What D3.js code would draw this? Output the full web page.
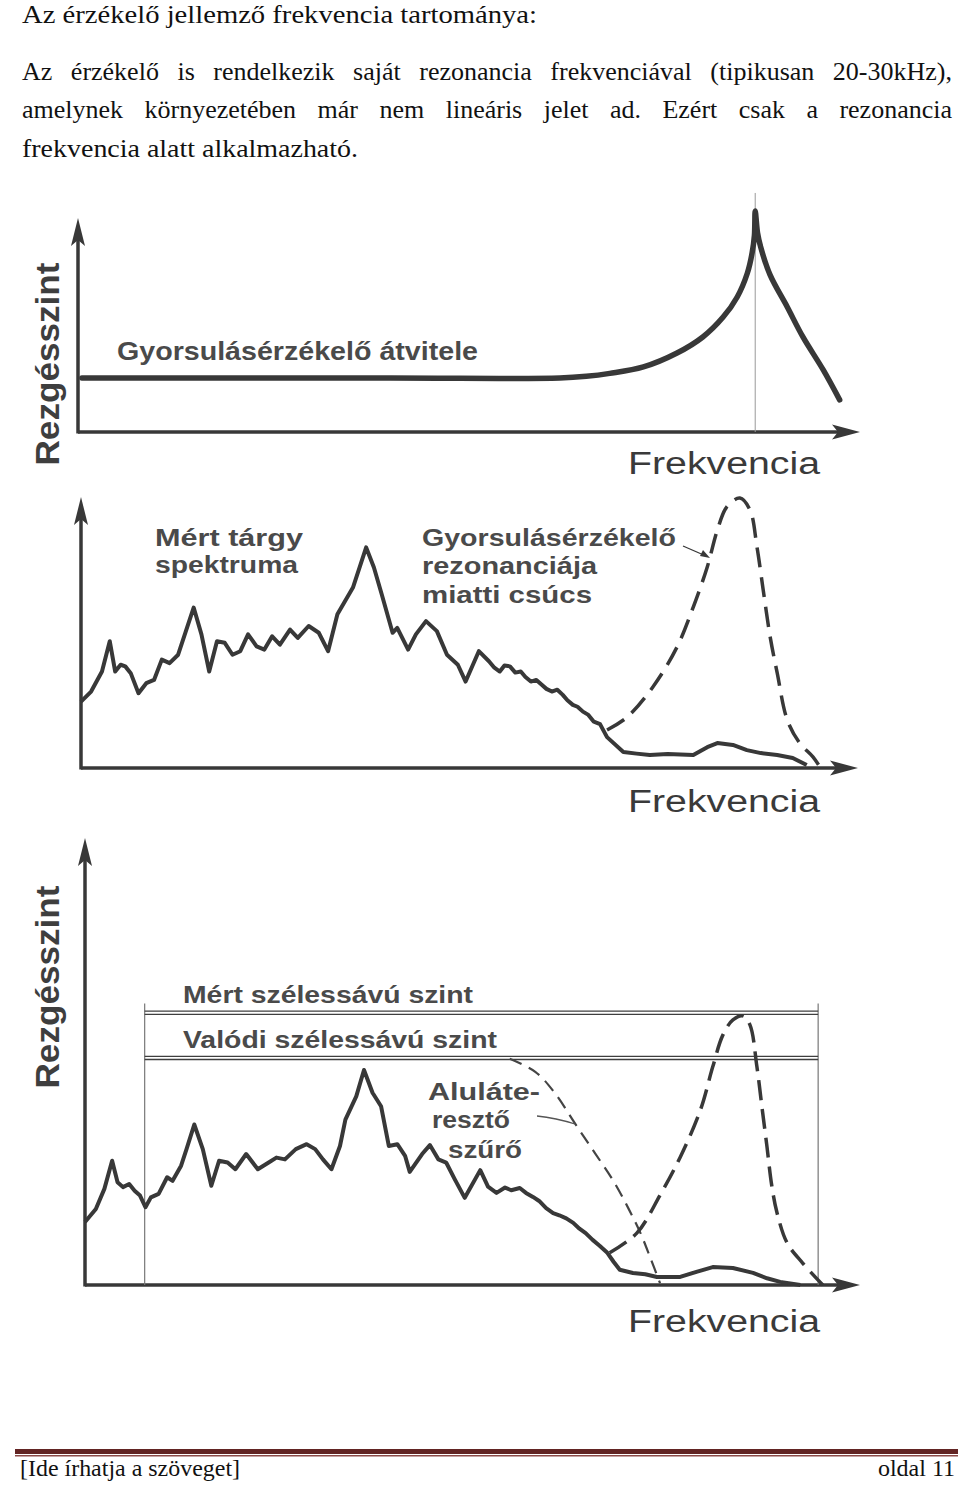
<!DOCTYPE html>
<html><head><meta charset="utf-8">
<script src="https://cdn.jsdelivr.net/npm/d3@7"></script>
<style>body{margin:0;background:#fff} svg{display:block}</style>
</head><body>
<svg id="c" width="960" height="1487"></svg>
<script>
// ---------- DATA (frequency 0..100 along the axis, level 0..100 up the axis) ----------
const headerLines = [
  "Az érzékelő jellemző frekvencia tartománya:",
  "Az érzékelő is rendelkezik saját rezonancia frekvenciával (tipikusan 20-30kHz),",
  "amelynek környezetében már nem lineáris jelet ad. Ezért csak a rezonancia",
  "frekvencia alatt alkalmazható."
];
const axisYLabel = "Rezgésszint";
const axisXLabel = "Frekvencia";

// Chart 1: accelerometer transfer function
const transferCurve = [[0.5,25.2],[40,25.2],[61.6,25.2],[65.0,26.0],[68.0,27.4],[72.3,30.4],[76.6,36.9],[79.9,44.4],[82.5,53.7],[84.3,63.1],[85.6,74.3],[86.2,83.6],[86.5,92],[86.6,103.3],[86.9,93],[87.3,86.4],[88.5,73.4],[90.7,58.4],[92.7,44.4],[95.3,29.0],[97.4,15.0]];
const resonanceMarker = [86.6, 111.7];
const transferLabel = "Gyorsulásérzékelő átvitele";

// Chart 2: measured spectrum + resonance peak
const spectrum2 = [[0,24.5],[1.3,28.2],[2.7,35.6],[3.7,46.8],[4.4,35.6],[5.1,38.1],[5.7,37.5],[6.4,35.0],[7.4,27.6],[8.4,31.3],[9.4,32.5],[10.4,40.0],[11.4,38.7],[12.5,41.8],[13.5,50.5],[14.5,59.2],[15.5,49.3],[16.5,35.6],[17.5,46.8],[18.5,46.2],[19.5,41.8],[20.5,43.1],[21.5,49.3],[22.6,44.9],[23.6,43.7],[24.6,48.6],[25.6,45.5],[26.9,51.1],[27.9,48.0],[29.3,52.4],[30.6,49.9],[31.8,43.1],[33.0,56.7],[35.0,66.6],[36.7,81.4],[37.7,74.0],[38.7,64.1],[40.1,49.9],[40.7,51.7],[42.1,43.7],[43.1,49.3],[44.4,54.2],[45.8,50.5],[47.1,41.8],[48.5,38.1],[49.5,31.9],[51.2,43.1],[52.5,39.4],[53.2,37.0],[53.9,35.6],[54.5,37.8],[55.2,37.5],[55.9,35.2],[56.6,35.6],[57.2,33.6],[57.9,31.9],[58.6,32.5],[59.3,30.7],[59.9,29.2],[60.6,28.2],[61.3,28.9],[62.0,27.0],[62.6,25.0],[63.3,23.3],[63.9,22.6],[64.6,20.8],[65.3,19.6],[66.0,17.1],[66.8,16.2],[67.7,11.4],[69.8,5.9],[71.5,5.3],[73.2,4.8],[75.5,5.2],[78.8,4.8],[80.6,7.7],[81.9,9.2],[83.9,8.5],[85.7,6.6],[87.5,5.5],[89.6,4.8],[91.6,3.7],[93.4,1.1]];
const resonance2 = [[67.7,14.0],[70.3,18.8],[73.6,29.9],[76.7,44.6],[78.8,59.4],[80.6,74.2],[81.9,87.8],[83.1,96.3],[84.8,99.6],[86.1,95.2],[87.0,81.5],[87.8,65.7],[88.7,48.3],[89.6,35.1],[90.9,17.7],[92.5,9.2],[94.2,4.1],[95.1,0.4]];
const chart2LabelLeft = ["Mért tárgy", "spektruma"];
const chart2LabelRight = ["Gyorsulásérzékelő", "rezonanciája", "miatti csúcs"];

// Chart 3: spectrum, low-pass filter, resonance, broadband levels
const spectrum3 = [[0,14.1],[1.4,17.0],[2.5,21.5],[3.5,27.8],[4.2,23.0],[4.9,21.9],[5.7,22.6],[6.4,21.1],[7.1,20.0],[7.8,17.4],[8.5,19.6],[9.5,20.4],[10.6,24.1],[11.3,23.3],[12.4,26.7],[13.1,30.4],[14.1,35.9],[15.2,30.4],[16.3,22.2],[17.3,27.8],[18.4,27.4],[19.4,25.9],[20.8,29.3],[22.3,25.9],[23.7,27.4],[24.7,28.5],[25.8,28.1],[27.2,30.4],[28.6,31.5],[29.7,30.4],[30.7,28.1],[31.8,25.9],[32.9,31.1],[33.6,37.0],[35.0,42.2],[36.0,48.1],[37.1,43.0],[38.2,40.0],[39.2,31.1],[40.3,31.5],[41.3,28.9],[41.9,25.3],[43.5,29.3],[44.5,31.3],[45.6,28.1],[46.6,27.4],[47.7,23.7],[49.0,19.5],[51.0,25.7],[52.0,22.0],[53.1,20.6],[54.2,21.8],[55.0,21.2],[56.1,21.7],[56.9,20.6],[57.8,19.7],[58.6,18.8],[59.5,17.2],[60.4,16.1],[61.2,15.6],[62.1,14.9],[63.0,13.9],[63.8,12.6],[64.6,11.6],[65.5,10.1],[66.4,8.8],[67.4,7.2],[68.2,5.2],[69.0,3.4],[70.7,2.7],[72.3,2.4],[73.8,1.8],[76.8,1.8],[79.0,3.0],[81.0,4.0],[83.6,3.8],[86.2,2.7],[88.0,1.5],[89.7,0.7],[92.3,0]];
const lowPass3 = [[54.8,50.6],[58.1,47.7],[60.6,43.0],[63.2,36.2],[65.8,29.5],[68.1,23.5],[70.1,17.2],[71.6,11.9],[72.9,6.3],[74.2,0.4]];
const resonance3 = [[67.7,7.2],[71.2,11.6],[74.2,20.1],[76.8,28.6],[79.4,39.1],[81.0,48.8],[82.3,55.9],[83.6,59.3],[84.9,60.2],[85.8,58.2],[86.7,48.8],[87.4,39.1],[88.0,30.9],[88.6,22.4],[89.3,16.1],[90.6,9.4],[92.6,4.9],[95.2,0]];
const bandLevels = [60.9, 50.8];          // measured, true broadband level
const bandRange = [7.7, 94.6];            // frequency band of the broadband measurement
const bandTop = 63;
const bandLabels = ["Mért szélessávú szint", "Valódi szélessávú szint"];
const filterLabel = ["Aluláte-", "resztő", "szűrő"];

const footerLeft = "[Ide írhatja a szöveget]";
const footerRight = "oldal 11";

// ---------- DRAWING ----------
const svg = d3.select("#c");
const INK = "#383838", TXT = "#4a4a4a";

function plainLine(txt, x, y, w) {
  const t = svg.append("text").attr("x", x).attr("y", y)
    .attr("font-family", "Liberation Serif").attr("font-size", 26).attr("fill", "#111").text(txt);
  if (w) t.attr("textLength", w).attr("lengthAdjust", "spacingAndGlyphs");
  return t;
}
function justifyLine(txt, x0, x1, y) {
  const words = txt.split(" ");
  const g = svg.append("g");
  const nodes = words.map(w => g.append("text").attr("y", y)
    .attr("font-family", "Liberation Serif").attr("font-size", 26).attr("fill", "#111").text(w));
  const widths = nodes.map(n => n.node().getComputedTextLength());
  const total = d3.sum(widths);
  let gap = (x1 - x0 - total) / (words.length - 1);
  let scale = 1;
  if (gap < 5) { scale = (x1 - x0 - 5 * (words.length - 1)) / total; gap = 5; }
  let x = x0;
  nodes.forEach((n, i) => {
    n.attr("x", x);
    if (scale !== 1) n.attr("textLength", widths[i] * scale).attr("lengthAdjust", "spacingAndGlyphs");
    x += widths[i] * scale + gap;
  });
}
plainLine(headerLines[0], 22, 23, 515);
justifyLine(headerLines[1], 22, 952, 80);
justifyLine(headerLines[2], 22, 952, 118);
plainLine(headerLines[3], 22, 157, 336);

function makePanel(px) {
  const x = d3.scaleLinear().domain([0, 100]).range([px.x0, px.x1]);
  const y = d3.scaleLinear().domain([0, 100]).range([px.y0, px.y1]);
  const g = svg.append("g");
  g.append("line").attr("x1", x(0)).attr("x2", x(100) - 14).attr("y1", y(0)).attr("y2", y(0))
    .attr("stroke", INK).attr("stroke-width", 3.5);
  g.append("line").attr("x1", x(0)).attr("x2", x(0)).attr("y1", y(0) + 1.5).attr("y2", y(100) + 14)
    .attr("stroke", INK).attr("stroke-width", 3.5);
  g.append("path").attr("d", `M${x(100)},${y(0)} L${x(100) - 28},${y(0) - 7.5} L${x(100) - 22},${y(0)} L${x(100) - 28},${y(0) + 7.5} Z`).attr("fill", INK);
  g.append("path").attr("d", `M${x(0)},${y(100)} L${x(0) - 7},${y(100) + 28} L${x(0)},${y(100) + 22} L${x(0) + 7},${y(100) + 28} Z`).attr("fill", INK);
  g.append("text").attr("x", px.fx).attr("y", px.fy).attr("font-family", "Liberation Sans")
    .attr("font-size", 31).attr("fill", "#3a3a3a").attr("textLength", 192).attr("lengthAdjust", "spacingAndGlyphs")
    .text(axisXLabel);
  if (px.ylab) {
    g.append("text").attr("transform", `translate(${px.ylab[0]},${px.ylab[1]}) rotate(-90)`)
      .attr("text-anchor", "middle").attr("font-family", "Liberation Sans").attr("font-weight", "bold")
      .attr("font-size", 33).attr("fill", "#3e3e3e").attr("textLength", 203).attr("lengthAdjust", "spacingAndGlyphs")
      .text(axisYLabel);
  }
  const line = d3.line().x(d => x(d[0])).y(d => y(d[1]));
  return { x, y, g, line };
}
function label(g, txt, x, y, w, size) {
  const t = g.append("text").attr("x", x).attr("y", y).attr("font-family", "Liberation Sans")
    .attr("font-weight", "bold").attr("font-size", size || 23).attr("fill", TXT).text(txt);
  if (w) t.attr("textLength", w).attr("lengthAdjust", "spacingAndGlyphs");
}

// Chart 1
{
  const P = makePanel({ x0: 78, x1: 860, y0: 432, y1: 218, fx: 628, fy: 474, ylab: [59, 364] });
  P.g.append("line").attr("x1", P.x(resonanceMarker[0])).attr("x2", P.x(resonanceMarker[0]))
    .attr("y1", P.y(resonanceMarker[1])).attr("y2", P.y(0)).attr("stroke", "#999").attr("stroke-width", 1);
  P.g.append("path").datum(transferCurve).attr("d", P.line.curve(d3.curveCatmullRom.alpha(0.5)))
    .attr("fill", "none").attr("stroke", INK).attr("stroke-width", 5.5).attr("stroke-linecap", "round").attr("stroke-linejoin", "round");
  label(P.g, transferLabel, 117, 360, 361, 25);
}

// Chart 2
{
  const P = makePanel({ x0: 81, x1: 858, y0: 768, y1: 497, fx: 628, fy: 812 });
  P.g.append("path").datum(resonance2).attr("d", P.line.curve(d3.curveCatmullRom.alpha(0.5)))
    .attr("fill", "none").attr("stroke", INK).attr("stroke-width", 3.5).attr("stroke-dasharray", "20 10");
  P.g.append("path").datum(spectrum2).attr("d", P.line.curve(d3.curveLinear))
    .attr("fill", "none").attr("stroke", INK).attr("stroke-width", 4).attr("stroke-linejoin", "round");
  label(P.g, chart2LabelLeft[0], 155, 546, 148);
  label(P.g, chart2LabelLeft[1], 155, 573, 143);
  label(P.g, chart2LabelRight[0], 422, 546, 254);
  label(P.g, chart2LabelRight[1], 422, 574, 175);
  label(P.g, chart2LabelRight[2], 422, 603, 170);
  P.g.append("line").attr("x1", 683).attr("y1", 546).attr("x2", 706).attr("y2", 556)
    .attr("stroke", INK).attr("stroke-width", 1.3);
  P.g.append("path").attr("d", "M710,558 L700,556 L703,550 Z").attr("fill", INK);
}

// Chart 3
{
  const P = makePanel({ x0: 85, x1: 860, y0: 1285, y1: 838, fx: 628, fy: 1332, ylab: [59, 987] });
  bandRange.forEach(f => P.g.append("line").attr("x1", P.x(f)).attr("x2", P.x(f))
    .attr("y1", P.y(bandTop)).attr("y2", P.y(0)).attr("stroke", "#777").attr("stroke-width", 1.2));
  bandLevels.forEach(l => {
    [-1.6, 1.6].forEach(o => P.g.append("line").attr("x1", P.x(bandRange[0])).attr("x2", P.x(bandRange[1]))
      .attr("y1", P.y(l) + o).attr("y2", P.y(l) + o).attr("stroke", "#3e3e3e").attr("stroke-width", 1.3));
  });
  P.g.append("path").datum(lowPass3).attr("d", P.line.curve(d3.curveCatmullRom.alpha(0.5)))
    .attr("fill", "none").attr("stroke", "#444").attr("stroke-width", 2.2).attr("stroke-dasharray", "13 8");
  P.g.append("path").datum(resonance3).attr("d", P.line.curve(d3.curveCatmullRom.alpha(0.5)))
    .attr("fill", "none").attr("stroke", INK).attr("stroke-width", 3.5).attr("stroke-dasharray", "20 9");
  P.g.append("path").datum(spectrum3).attr("d", P.line.curve(d3.curveLinear))
    .attr("fill", "none").attr("stroke", INK).attr("stroke-width", 4).attr("stroke-linejoin", "round");
  label(P.g, bandLabels[0], 183, 1003, 290);
  label(P.g, bandLabels[1], 183, 1048, 314);
  label(P.g, filterLabel[0], 428, 1100, 112);
  label(P.g, filterLabel[1], 432, 1128, 78);
  label(P.g, filterLabel[2], 448, 1158, 74);
  P.g.append("path").attr("d", "M537,1116 Q556,1118 575,1124").attr("fill", "none")
    .attr("stroke", "#555").attr("stroke-width", 1.3);
}

// footer
svg.append("rect").attr("x", 15).attr("y", 1449).attr("width", 943).attr("height", 5).attr("fill", "#622423");
svg.append("rect").attr("x", 15).attr("y", 1455).attr("width", 943).attr("height", 1.5).attr("fill", "#8c4a48");
svg.append("text").attr("x", 20).attr("y", 1476).attr("font-family", "Liberation Serif").attr("font-size", 24)
  .attr("fill", "#111").attr("textLength", 220).attr("lengthAdjust", "spacingAndGlyphs").text(footerLeft);
svg.append("text").attr("x", 955).attr("y", 1476).attr("text-anchor", "end").attr("font-family", "Liberation Serif").attr("font-size", 24)
  .attr("fill", "#111").text(footerRight);
</script>
</body></html>
